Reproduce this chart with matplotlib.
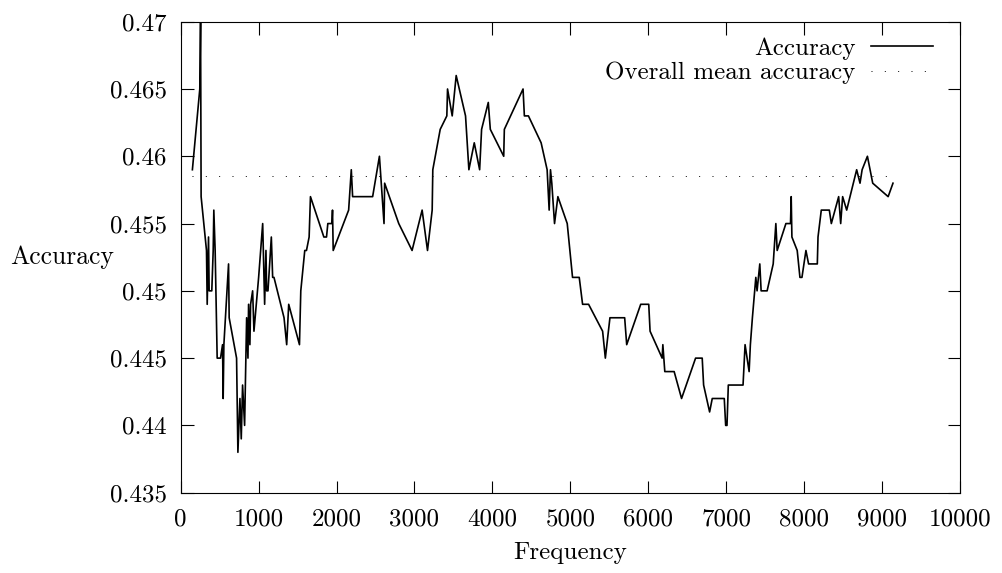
import matplotlib
matplotlib.use("Agg")
import matplotlib.pyplot as plt
from matplotlib.ticker import FuncFormatter

plt.rcParams['font.family'] = ['cmr10', 'DejaVu Serif']
plt.rcParams['font.size'] = 18
plt.rcParams['lines.scale_dashes'] = False

frequency = [150, 245, 255, 262, 331, 340, 357, 365, 399, 417, 425, 442, 468, 511, 537, 545, 554,
             614, 622, 717, 734, 760, 777, 794, 820, 846, 863, 871, 888, 897, 923, 940, 1000,
             1052, 1077, 1094, 1103, 1120, 1163, 1180, 1197, 1326, 1360, 1386, 1524, 1541, 1592,
             1614, 1648, 1665, 1837, 1871, 1888, 1940, 1948, 1957, 2155, 2189, 2206, 2429, 2463,
             2550, 2609, 2617, 2798, 2969, 3098, 3167, 3227, 3235, 3330, 3415, 3424, 3484, 3535,
             3655, 3698, 3767, 3836, 3861, 3947, 3973, 4145, 4153, 4393, 4410, 4462, 4625, 4702,
             4728, 4745, 4762, 4797, 4840, 4960, 5028, 5114, 5157, 5234, 5414, 5449, 5508, 5697,
             5723, 5903, 6006, 6023, 6178, 6187, 6212, 6332, 6427, 6607, 6692, 6710, 6787, 6821,
             6975, 6993, 7010, 7027, 7216, 7242, 7294, 7310, 7336, 7380, 7396, 7431, 7448, 7525,
             7603, 7637, 7654, 7766, 7825, 7834, 7843, 7911, 7946, 7972, 8023, 8057, 8169, 8178,
             8220, 8323, 8349, 8443, 8469, 8494, 8546, 8674, 8717, 8744, 8812, 8880, 9078, 9140]
accuracy = [0.459, 0.465, 0.470, 0.457, 0.453, 0.449, 0.454, 0.450, 0.450, 0.453, 0.456, 0.453,
            0.445, 0.445, 0.446, 0.442, 0.446, 0.452, 0.448, 0.445, 0.438, 0.442, 0.439, 0.443,
            0.440, 0.448, 0.445, 0.449, 0.446, 0.449, 0.450, 0.447, 0.451, 0.455, 0.449, 0.453,
            0.450, 0.450, 0.454, 0.451, 0.451, 0.448, 0.446, 0.449, 0.446, 0.450, 0.453, 0.453,
            0.454, 0.457, 0.454, 0.454, 0.455, 0.455, 0.456, 0.453, 0.456, 0.459, 0.457, 0.457,
            0.457, 0.460, 0.455, 0.458, 0.455, 0.453, 0.456, 0.453, 0.456, 0.459, 0.462, 0.463,
            0.465, 0.463, 0.466, 0.463, 0.459, 0.461, 0.459, 0.462, 0.464, 0.462, 0.460, 0.462,
            0.465, 0.463, 0.463, 0.461, 0.459, 0.456, 0.459, 0.458, 0.455, 0.457, 0.455, 0.451,
            0.451, 0.449, 0.449, 0.447, 0.445, 0.448, 0.448, 0.446, 0.449, 0.449, 0.447, 0.445,
            0.446, 0.444, 0.444, 0.442, 0.445, 0.445, 0.443, 0.441, 0.442, 0.442, 0.440, 0.440,
            0.443, 0.443, 0.446, 0.444, 0.446, 0.448, 0.451, 0.450, 0.452, 0.450, 0.450, 0.452,
            0.455, 0.453, 0.455, 0.455, 0.457, 0.454, 0.453, 0.451, 0.451, 0.453, 0.452, 0.452,
            0.454, 0.456, 0.456, 0.455, 0.457, 0.455, 0.457, 0.456, 0.459, 0.458, 0.459, 0.460,
            0.458, 0.457, 0.458]
mean_accuracy = 0.4585

x_ticks = [0, 1000, 2000, 3000, 4000, 5000, 6000, 7000, 8000, 9000, 10000]
y_ticks = [0.435, 0.44, 0.445, 0.45, 0.455, 0.46, 0.465, 0.47]

fig = plt.figure(figsize=(10.02, 5.73), dpi=100)
ax = fig.add_axes([180.7 / 1002, 1 - 492.7 / 573, (960 - 180.7) / 1002, (492.7 - 21.7) / 573])

ax.plot(frequency, accuracy, color='black', lw=1.2, label='Accuracy')
ax.plot([frequency[0], frequency[-1]], [mean_accuracy, mean_accuracy], color='black', lw=0.7,
        linestyle=(0, (0.7, 8.9)), label='Overall mean accuracy')

ax.set_xlim(0, 10000)
ax.set_ylim(0.435, 0.47)
ax.set_xticks(x_ticks)
ax.set_yticks(y_ticks)
ax.yaxis.set_major_formatter(FuncFormatter(lambda v, p: '%g' % round(v, 3)))
ax.tick_params(direction='in', length=9, width=0.8, top=True, right=True, pad=11)
ax.tick_params(axis='y', pad=10)
for s in ax.spines.values():
    s.set_linewidth(0.8)

fig.text(10 / 1002, 1 - 257 / 573, 'Accuracy', ha='left', va='center', fontsize=18.5)
fig.text(570 / 1002, 1 - 553 / 573, 'Frequency', ha='center', va='center')

leg = ax.legend(loc='upper right', bbox_to_anchor=(933 / 1002, 1 - 37 / 573),
                bbox_transform=fig.transFigure, frameon=False, markerfirst=False,
                handlelength=2.5, handletextpad=0.6, borderpad=0, borderaxespad=0,
                labelspacing=0.1)

fig.savefig('out.png', dpi=100)
